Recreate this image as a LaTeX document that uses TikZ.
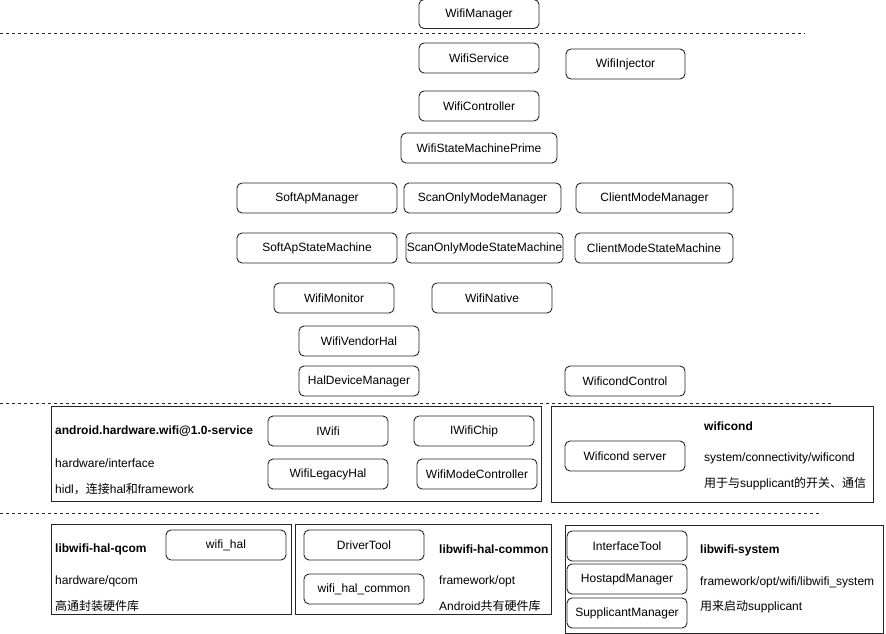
\documentclass[tikz,border=0pt]{standalone}
\usepackage{fontspec}
\setmainfont{Liberation Sans}
\newfontfamily\cjk{Noto Sans CJK SC}
\begin{document}
\begin{tikzpicture}[x=1pt,y=-1pt,
  every node/.style={font=\fontsize{12}{14}\selectfont, inner sep=0pt},
  rbox/.style={draw=black!85, line width=0.9pt, rounded corners=5pt, minimum height=30pt},
  frame/.style={draw=black!85, line width=1pt},
  sep/.style={draw=black!85, line width=0.9pt, dash pattern=on 3pt off 3pt},
  lbl/.style={anchor=west},
  blbl/.style={anchor=west, font=\fontsize{12}{14}\selectfont\bfseries}]
\useasboundingbox (0,0) rectangle (886,634);
% separators
\coordinate (s1a) at (0,33); \coordinate (s1b) at (805,33);
\coordinate (s2a) at (0,403); \coordinate (s2b) at (833,403);
\coordinate (s3a) at (0,513); \coordinate (s3b) at (822,513);
\draw[sep] (s1a) -- (s1b);
\draw[sep] (s2a) -- (s2b);
\draw[sep] (s3a) -- (s3b);
% top area
\node[rbox, minimum width=120pt, minimum height=29pt] (wm) at (479,14) {WifiManager};
\node[rbox, minimum width=120pt] (ws) at (479,58) {WifiService};
\node[rbox, minimum width=119pt] (wi) at (625.5,64) {WifiInjector};
\node[rbox, minimum width=120pt] (wc) at (479,106) {WifiController};
\node[rbox, minimum width=156pt] (wsmp) at (479,148) {WifiStateMachinePrime};
\node[rbox, minimum width=160pt] (sam) at (317,198) {SoftApManager};
\node[rbox, minimum width=157pt] (som) at (482.5,198) {ScanOnlyModeManager};
\node[rbox, minimum width=157pt] (cmm) at (654.5,198) {ClientModeManager};
\node[rbox, minimum width=160pt] (sasm) at (317,248) {SoftApStateMachine};
\node[rbox, minimum width=157pt] (sosm) at (484.5,248) {ScanOnlyModeStateMachine};
\node[rbox, minimum width=158pt] (cmsm) at (654,248) {ClientModeStateMachine};
\node[rbox, minimum width=120pt] (wmon) at (334,298) {WifiMonitor};
\node[rbox, minimum width=120pt] (wn) at (492,298) {WifiNative};
\node[rbox, minimum width=120pt] (wvh) at (359,341) {WifiVendorHal};
\node[rbox, minimum width=120pt] (hdm) at (359,381) {HalDeviceManager};
\node[rbox, minimum width=120pt] (wcc) at (625,381) {WificondControl};
% hal service frame
\node[frame, minimum width=490pt, minimum height=95pt] (hsf) at (296,453.5) {};
\node[blbl] (hst) at (55,431) {android.hardware.wifi@1.0-service};
\node[lbl] (hsp) at (55,463) {hardware/interface};
\node[lbl] (hsd) at (55,489) {hidl{\cjk ，连接}hal{\cjk 和}framework};
\node[rbox, minimum width=120pt] (iw) at (328,431) {IWifi};
\node[rbox, minimum width=120pt] (iwc) at (474,431) {IWifiChip};
\node[rbox, minimum width=120pt] (wlh) at (328,474) {WifiLegacyHal};
\node[rbox, minimum width=120pt] (wmc) at (477,474) {WifiModeController};
% wificond frame
\node[frame, minimum width=322pt, minimum height=96pt] (wcf) at (712,454) {};
\node[rbox, minimum width=120pt] (wcs) at (625,456) {Wificond server};
\node[blbl] (wct) at (704,426) {wificond};
\node[lbl] (wcp) at (704,458) {system/connectivity/wificond};
\node[lbl] (wcd) at (704,484) {{\cjk 用于与}supplicant{\cjk 的开关、通信}};
% qcom frame
\node[frame, minimum width=240pt, minimum height=90pt] (qf) at (171,569) {};
\node[rbox, minimum width=120pt] (wh) at (226,545) {wifi\_hal};
\node[blbl] (qt) at (55,549) {libwifi-hal-qcom};
\node[lbl] (qp) at (55,581) {hardware/qcom};
\node[lbl] (qd) at (55,606) {\cjk 高通封装硬件库};
% common frame
\node[frame, minimum width=256pt, minimum height=90pt] (cf) at (423,569) {};
\node[rbox, minimum width=120pt] (dt) at (364,545) {DriverTool};
\node[rbox, minimum width=120pt] (whc) at (364,589) {wifi\_hal\_common};
\node[blbl] (ct) at (439,549) {libwifi-hal-common};
\node[lbl] (cp) at (439,581) {framework/opt};
\node[lbl] (cd) at (439,606) {Android{\cjk 共有硬件库}};
% system frame
\node[frame, minimum width=318pt, minimum height=108pt] (sf) at (724,579) {};
\node[rbox, minimum width=120pt] (it) at (627,546) {InterfaceTool};
\node[rbox, minimum width=120pt] (hm) at (627,579) {HostapdManager};
\node[rbox, minimum width=120pt] (sm) at (627,613) {SupplicantManager};
\node[blbl] (st) at (700,550) {libwifi-system};
\node[lbl] (sp) at (700,582) {framework/opt/wifi/libwifi\_system};
\node[lbl] (sd) at (700,607) {{\cjk 用来启动}supplicant};
\end{tikzpicture}
\end{document}
